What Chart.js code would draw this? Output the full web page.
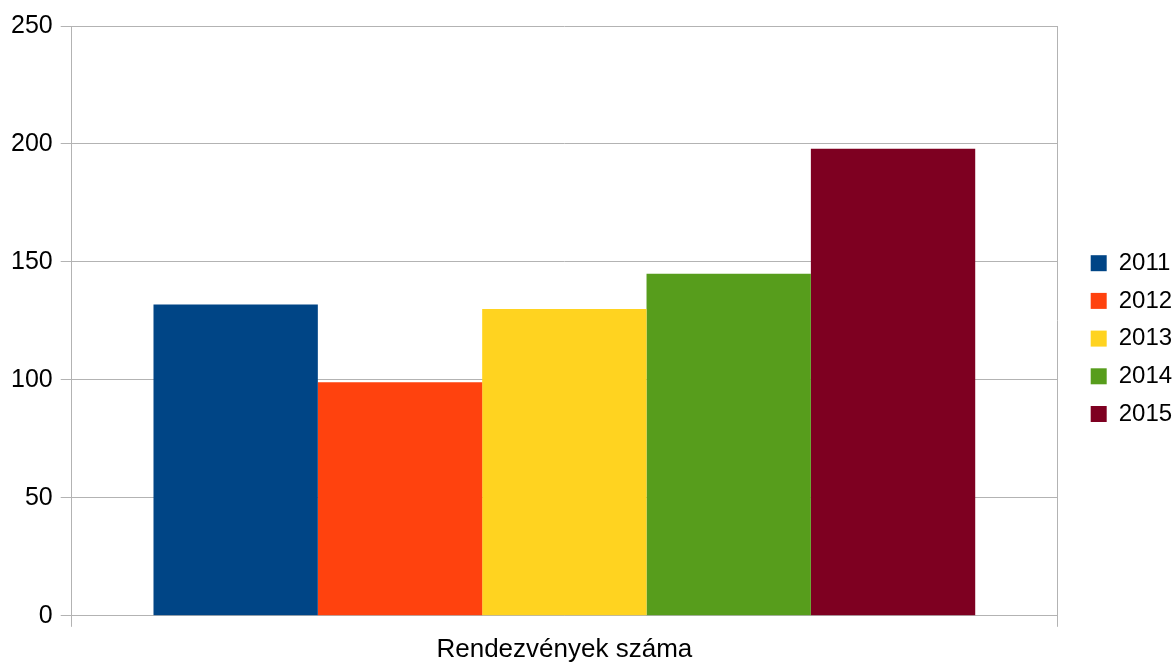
<!DOCTYPE html>
<html>
<head>
<meta charset="utf-8">
<script src="https://cdn.jsdelivr.net/npm/chart.js@4"></script>
<style>
  html, body { margin: 0; padding: 0; background: #fff; }
  #wrap { width: 1173px; height: 662px; }
</style>
</head>
<body>
<div id="wrap"><canvas id="myChart" width="1173" height="662"></canvas></div>
<script>
// data
const categories = ["Rendezvények száma"];
const years = ["2011", "2012", "2013", "2014", "2015"];
const values2011 = [132];
const values2012 = [99];
const values2013 = [130];
const values2014 = [145];
const values2015 = [198];
const yTicks = [0, 50, 100, 150, 200, 250];

const colors = ["#004586", "#ff420e", "#ffd320", "#579d1c", "#7e0021"];
const seriesValues = [values2011, values2012, values2013, values2014, values2015];
const gridColor = "#b3b3b3";
const fontFamily = "'Liberation Sans', Arial, sans-serif";

const datasets = years.map((year, i) => ({
  label: year,
  data: seriesValues[i],
  backgroundColor: colors[i],
  borderWidth: 0
}));

const ctx = document.getElementById("myChart");
new Chart(ctx, {
  type: "bar",
  data: { labels: categories, datasets: datasets },
  options: {
    responsive: false,
    animation: false,
    devicePixelRatio: 1,
    layout: { padding: { top: 26, left: 3, right: 0, bottom: 0 } },
    datasets: { bar: { categoryPercentage: 0.834, barPercentage: 1 } },
    plugins: {
      tooltip: { enabled: false },
      legend: {
        position: "right",
        align: "start",
        maxWidth: 96,
        // empty title only pushes the legend rows down to the middle
        title: { display: true, text: "", font: { size: 10 }, padding: { top: 199.5, bottom: 0 } },
        labels: {
          boxWidth: 16,
          boxHeight: 16,
          padding: 13.7,
          color: "#000",
          font: { family: fontFamily, size: 24 }
        }
      }
    },
    scales: {
      x: {
        offset: true,
        grid: { display: true, offset: true, color: gridColor, tickLength: 11, lineWidth: 1 },
        border: { display: true, color: gridColor },
        ticks: { color: "#000", padding: 7, font: { family: fontFamily, size: 26 } },
        afterFit: (scale) => { scale.height = scale.height - 10; }
      },
      y: {
        min: 0,
        max: 250,
        afterBuildTicks: (scale) => { scale.ticks = yTicks.map(v => ({ value: v })); },
        grid: { color: gridColor, tickLength: 11, lineWidth: 1 },
        border: { display: true, color: gridColor },
        ticks: { color: "#000", padding: 8, font: { family: fontFamily, size: 25 } }
      },
      spacer: {
        position: "right",
        display: true,
        grid: { display: false },
        border: { display: false },
        ticks: { display: false },
        afterFit: (scale) => { scale.width = 20; }
      }
    }
  }
});
</script>
</body>
</html>
